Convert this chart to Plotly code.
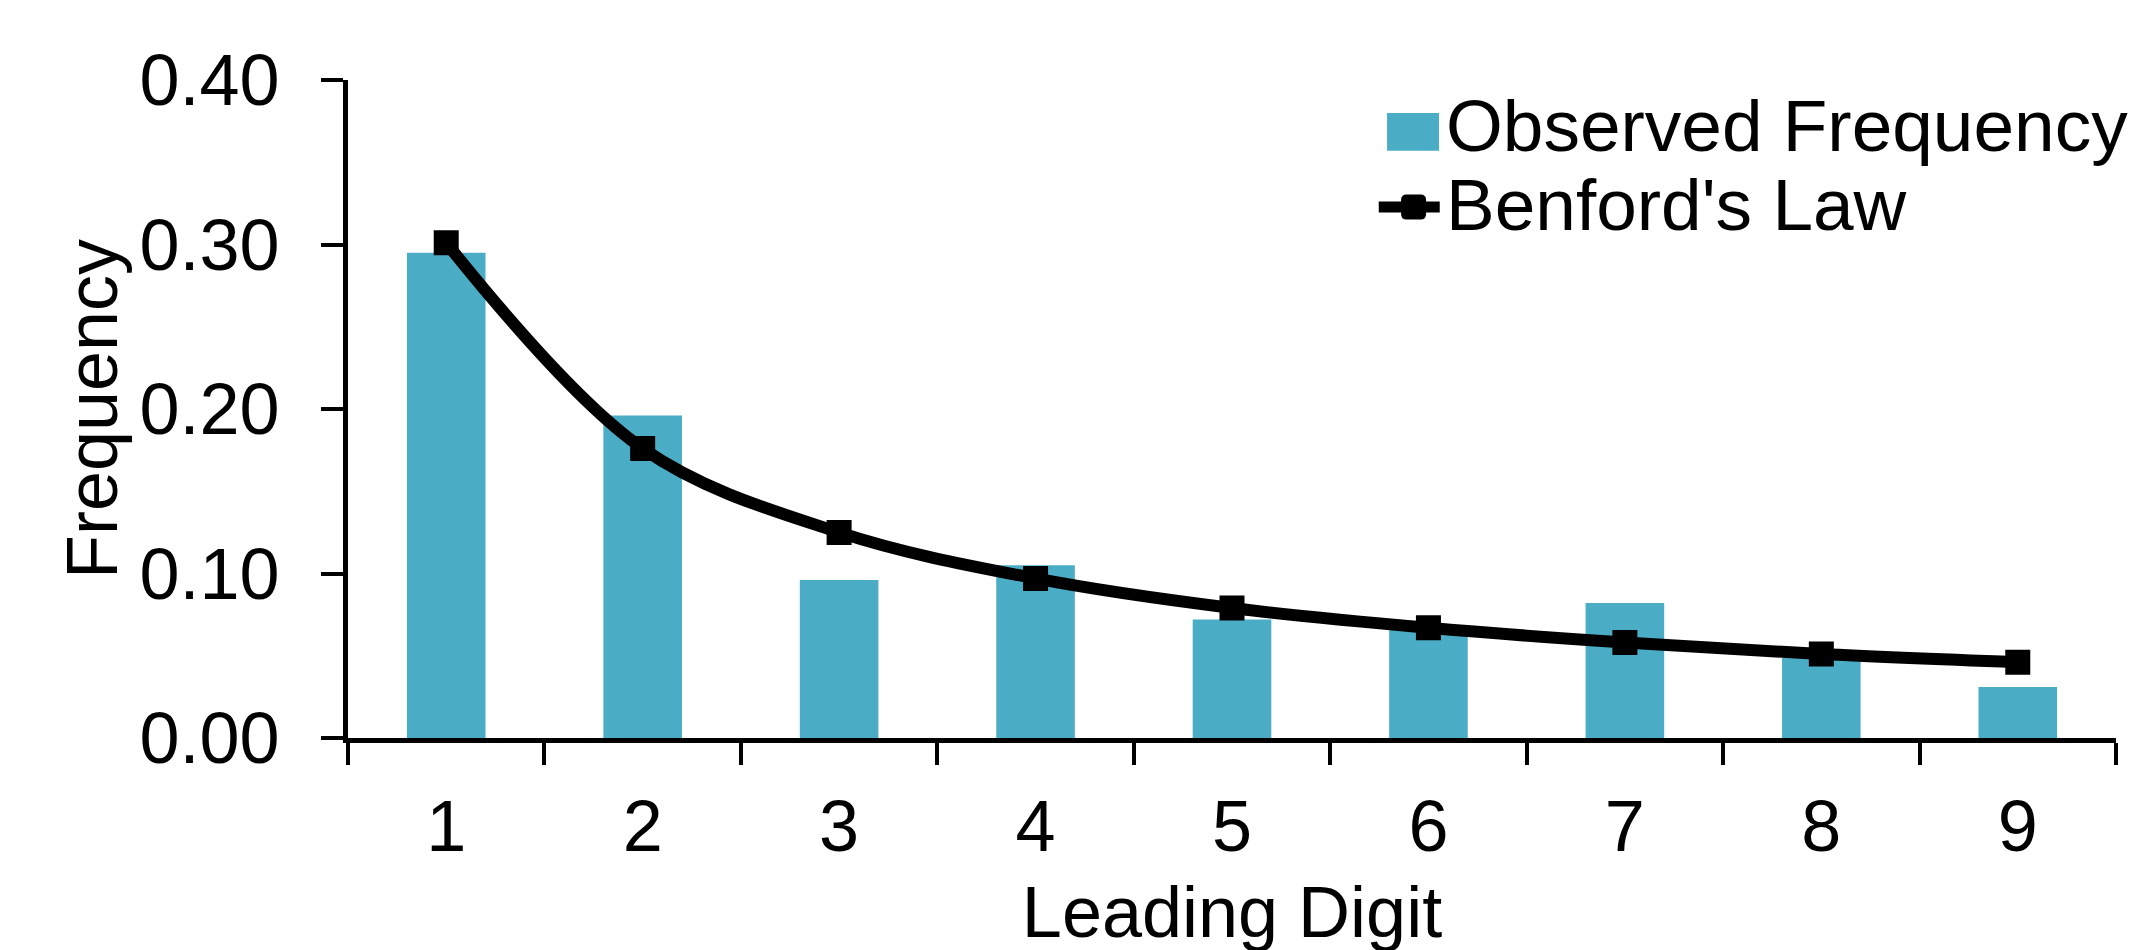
import plotly.graph_objects as go

# ---- data ----
digits = ["1", "2", "3", "4", "5", "6", "7", "8", "9"]
observed = [0.295, 0.196, 0.096, 0.105, 0.072, 0.068, 0.082, 0.049, 0.031]
benford = [0.301, 0.176, 0.125, 0.097, 0.079, 0.067, 0.058, 0.051, 0.046]
y_tickvals = [0.0, 0.1, 0.2, 0.3, 0.4]
y_ticktext = ["0.00", "0.10", "0.20", "0.30", "0.40"]
series_names = ["Observed Frequency", "Benford's Law"]

BAR = "#4BACC6"
FONT = "Liberation Sans, Arial, sans-serif"

fig = go.Figure()
fig.add_bar(
    x=digits, y=observed, name=series_names[0],
    marker=dict(color=BAR, line=dict(width=0)), showlegend=False,
)
fig.add_scatter(
    x=digits, y=benford, name=series_names[1], mode="lines+markers",
    line=dict(color="black", width=12, shape="spline"),
    marker=dict(symbol="square", size=21, color="black",
                line=dict(color="black", width=4)),
    showlegend=False,
)

# ---- custom legend (large swatches like the original) ----
shapes = [
    dict(type="rect", xref="paper", yref="paper",
         x0=0.5877, x1=0.6171, y0=0.8926, y1=0.9498,
         fillcolor=BAR, line=dict(width=0), layer="above"),
    dict(type="line", xref="paper", yref="paper",
         x0=0.5830, x1=0.6175, y0=0.8070, y1=0.8070,
         line=dict(color="black", width=11), layer="above"),
    dict(type="path", xref="paper", yref="paper",
         xsizemode="pixel", ysizemode="pixel",
         xanchor=0.6027, yanchor=0.8070,
         path="M-12.5,-7 Q-12.5,-12.5 -7,-12.5 L7,-12.5 Q12.5,-12.5 12.5,-7 "
              "L12.5,7 Q12.5,12.5 7,12.5 L-7,12.5 Q-12.5,12.5 -12.5,7 Z",
         fillcolor="black", line=dict(width=0), layer="above"),
]
annotations = [
    dict(text=series_names[0], xref="paper", yref="paper", x=0.6200, y=0.9316,
         xanchor="left", yanchor="middle", showarrow=False,
         font=dict(family=FONT, size=73, color="black")),
    dict(text=series_names[1], xref="paper", yref="paper", x=0.6200, y=0.8112,
         xanchor="left", yanchor="middle", showarrow=False,
         font=dict(family=FONT, size=73, color="black")),
]

fig.update_layout(
    width=2139, height=950,
    margin=dict(l=340, r=31, t=72, b=220, autoexpand=False),
    plot_bgcolor="white", paper_bgcolor="white",
    bargap=0.6,
    font=dict(family=FONT, size=72, color="black"),
    shapes=shapes, annotations=annotations,
    showlegend=False,
)
fig.update_xaxes(
    type="category", range=[-0.5, 8.5], tickson="boundaries",
    ticks="outside", ticklen=22, tickwidth=4, tickcolor="black",
    showline=True, linewidth=5, linecolor="black",
    showgrid=False, zeroline=False,
    ticklabelstandoff=22,
    tickfont=dict(family=FONT, size=72, color="black"),
    title=dict(text="Leading Digit", font=dict(family=FONT, size=72, color="black"), standoff=23),
)
fig.update_yaxes(
    range=[0, 0.4], tickvals=y_tickvals, ticktext=y_ticktext,
    ticks="outside", ticklen=22, tickwidth=4, tickcolor="black",
    showline=True, linewidth=5, linecolor="black",
    showgrid=False, zeroline=False,
    ticklabelstandoff=27,
    tickfont=dict(family=FONT, size=72, color="black"),
    title=dict(text="Frequency", font=dict(family=FONT, size=72, color="black"), standoff=0),
)

fig.write_html("out.html")
